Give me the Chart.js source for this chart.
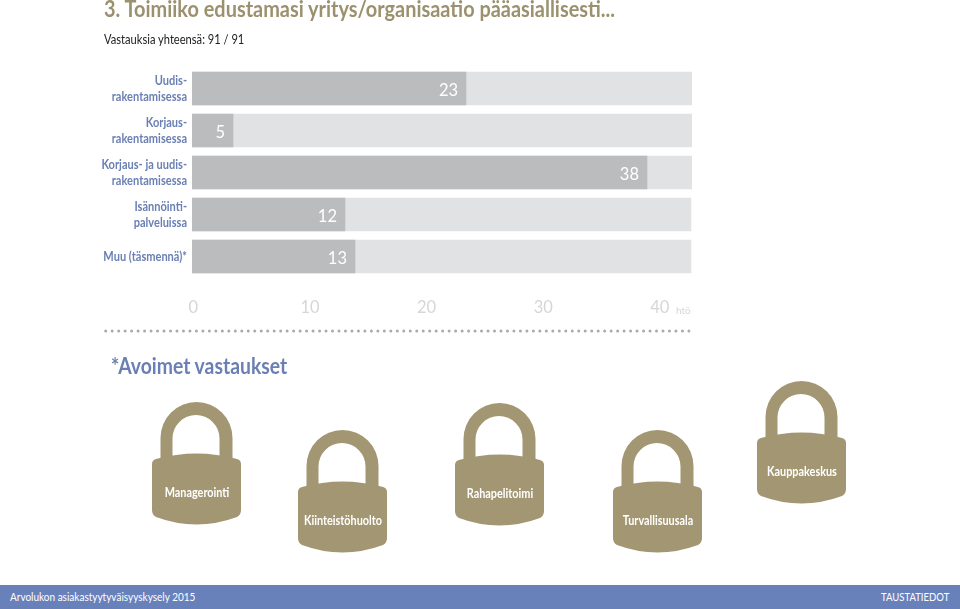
<!DOCTYPE html>
<html>
<head>
<meta charset="utf-8">
<title>Toimiala</title>
<script src="https://cdn.jsdelivr.net/npm/chart.js@4"></script>
<style>
    html, body { margin: 0; padding: 0; background: #fff; }
    body { width: 960px; height: 609px; position: relative; overflow: hidden; font-family: Lato, sans-serif; }
    #chart { position: absolute; left: 0; top: 0; }
    .text { position: absolute; white-space: nowrap; line-height: 1; transform-origin: left center; }
    #title { left: 104px; top: -2px; font-size: 22px; font-weight: 700; color: #9c916f; transform: scaleX(0.905); }
    #total { left: 104px; top: 34px; font-size: 12.5px; color: #222; transform: scaleX(0.89); }
    #unit { left: 676px; top: 305px; font-size: 10px; color: #d5d6d8; }
    #open { left: 111px; top: 355px; font-size: 22px; font-weight: 700; color: #6a7fb3; transform: scaleX(0.88); }
    #dots { position: absolute; left: 103px; top: 328px; }
    .lock { position: absolute; width: 90px; height: 124px; }
    .lock span { position: absolute; left: -20px; right: -20px; top: 83px; text-align: center; font-size: 12.5px; font-weight: 700; color: #fff; transform: scaleX(0.87); transform-origin: center; }
    #footer { position: absolute; left: 0; top: 585px; width: 960px; height: 24px; background: #6881bb; color: #fff; font-size: 11.5px; }
    #footer .text { top: 6px; }
</style>
</head>
<body>
<canvas id="chart" width="960" height="609"></canvas>

<div class="text" id="title">3. Toimiiko edustamasi yritys/organisaatio pääasiallisesti...</div>
<div class="text" id="total">Vastauksia yhteensä: 91 / 91</div>
<div class="text" id="unit">htö</div>
<svg id="dots" width="590" height="6"><line x1="2.7" y1="3" x2="589" y2="3" stroke="#a9aaac" stroke-width="3" stroke-linecap="round" stroke-dasharray="0 6.48"/></svg>
<div class="text" id="open">*Avoimet vastaukset</div>

<svg width="0" height="0" style="position:absolute">
    <symbol id="lockShape" viewBox="0 0 90 124">
        <path fill="#a39672" d="M8.5 56 V36 A36 36 0 0 1 80.5 36 V56 H67.5 V36.5 A23.5 23.5 0 0 0 20.5 36.5 V56 Z"/>
        <path fill="#a39672" d="M4 57 Q44.5 46 85 57 Q89 58 89 62 V108 Q89 113 85 115 Q44.5 130 4 115 Q0 113 0 108 V62 Q0 58 4 57 Z"/>
    </symbol>
</svg>
<div class="lock" style="left:152px;top:402px"><svg width="90" height="124"><use href="#lockShape"/></svg><span>Managerointi</span></div>
<div class="lock" style="left:298px;top:430px"><svg width="90" height="124"><use href="#lockShape"/></svg><span>Kiinteistöhuolto</span></div>
<div class="lock" style="left:455px;top:403px"><svg width="90" height="124"><use href="#lockShape"/></svg><span>Rahapelitoimi</span></div>
<div class="lock" style="left:613px;top:430px"><svg width="90" height="124"><use href="#lockShape"/></svg><span>Turvallisuusala</span></div>
<div class="lock" style="left:757px;top:381px"><svg width="90" height="124"><use href="#lockShape"/></svg><span>Kauppakeskus</span></div>

<div id="footer">
    <div class="text" style="left:10px;transform:scaleX(0.87)">Arvolukon asiakastyytyväisyyskysely 2015</div>
    <div class="text" style="right:11px;transform:scaleX(0.83);transform-origin:right center">TAUSTATIEDOT</div>
</div>

<script>
const categories = [
    ['Uudis-', 'rakentamisessa'],
    ['Korjaus-', 'rakentamisessa'],
    ['Korjaus- ja uudis-', 'rakentamisessa'],
    ['Isännöinti-', 'palveluissa'],
    ['Muu (täsmennä)*']
];
// printed counts
const answerCounts = [23, 5, 38, 12, 13];
// how far each bar really reaches on the axis, the picture does not follow the counts exactly
const barLengths = [23.38, 3.4, 38.9, 13.0, 13.86];
const trackLengths = [42.76, 42.76, 42.76, 42.67, 42.67];
const tickValues = [0, 10, 20, 30, 40];

// white count inside the end of each bar
const countLabels = {
    id: 'countLabels',
    afterDatasetsDraw(chart) {
        const ctx = chart.ctx;
        const meta = chart.getDatasetMeta(1);
        ctx.save();
        ctx.font = '16.5px Lato';
        ctx.fillStyle = '#fff';
        ctx.textAlign = 'right';
        ctx.textBaseline = 'middle';
        meta.data.forEach(function (bar, i) {
            ctx.fillText(answerCounts[i], bar.x - 8, bar.y + 2);
        });
        ctx.restore();
    }
};

// category labels, drawn here because canvas ticks can't be narrowed
const categoryLabels = {
    id: 'categoryLabels',
    afterDraw(chart) {
        const ctx = chart.ctx;
        const yScale = chart.scales.y;
        const labelRight = yScale.right - 5;
        const narrow = 0.85;
        ctx.save();
        ctx.font = '700 13px Lato';
        ctx.fillStyle = '#6a7fb3';
        ctx.textAlign = 'right';
        ctx.textBaseline = 'middle';
        ctx.scale(narrow, 1);
        categories.forEach(function (lines, i) {
            const mid = yScale.getPixelForTick(i);
            lines.forEach(function (line, n) {
                const y = mid + (n - (lines.length - 1) / 2) * 16;
                ctx.fillText(line, labelRight / narrow, y);
            });
        });
        ctx.restore();
    }
};

const axisStart = -0.12;

new Chart(document.getElementById('chart').getContext('2d'), {
    type: 'bar',
    data: {
        labels: categories,
        datasets: [{
            data: trackLengths,
            backgroundColor: '#e0e2e4',
            base: axisStart,
            order: 2,
            grouped: false,
            barThickness: 33
        }, {
            data: barLengths,
            backgroundColor: '#bbbcbe',
            base: axisStart,
            order: 1,
            grouped: false,
            barThickness: 33
        }]
    },
    options: {
        indexAxis: 'y',
        responsive: false,
        animation: false,
        layout: { padding: { top: 67.5, right: 268, bottom: 271.5, left: 0 } },
        plugins: { legend: { display: false }, tooltip: { enabled: false } },
        scales: {
            x: {
                min: axisStart,
                max: 42.76,
                afterBuildTicks(axis) {
                    axis.ticks = tickValues.map(function (v) { return { value: v }; });
                },
                afterFit(axis) { axis.height = 60; },
                grid: { display: false },
                border: { display: false },
                ticks: {
                    padding: 12,
                    maxRotation: 0,
                    autoSkip: false,
                    color: '#d5d6d8',
                    font: { family: 'Lato', size: 16.5 }
                }
            },
            y: {
                afterFit(axis) { axis.width = 192; },
                grid: { display: false, drawTicks: false },
                border: { display: false },
                ticks: { display: false }
            }
        }
    },
    plugins: [countLabels, categoryLabels]
});
</script>
</body>
</html>
